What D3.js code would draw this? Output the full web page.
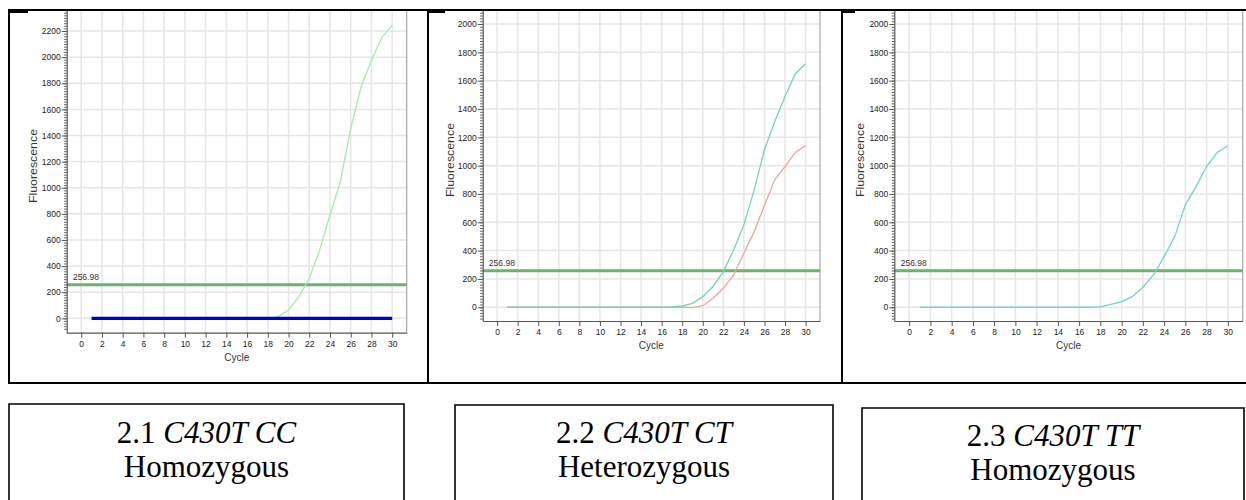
<!DOCTYPE html>
<html>
<head>
<meta charset="utf-8">
<script src="https://cdn.jsdelivr.net/npm/d3@7"></script>
<style>
  body { margin: 0; background: #fff; }
  svg { display: block; }
</style>
</head>
<body>
<svg id="chart"></svg>
<script>
// Cycle numbers shared by every run
const cycles = [1, 2, 3, 4, 5, 6, 7, 8, 9, 10, 11, 12, 13, 14, 15, 16, 17, 18, 19, 20, 21, 22, 23, 24, 25, 26, 27, 28, 29, 30];

// 2.1 CC homozygous
const ccGreen = [0, 0, 0, 0, 0, 0, 0, 0, 0, 0, 0, 0, 0, 0, 0, 0, 0, 0, 13, 64, 166, 306, 523, 791, 1046, 1454, 1773, 1977, 2150, 2245];
const ccBlue = [0, 0, 0, 0, 0, 0, 0, 0, 0, 0, 0, 0, 0, 0, 0, 0, 0, 0, 0, 0, 0, 0, 0, 0, 0, 0, 0, 0, 0, 0];

// 2.2 CT heterozygous
const ctTeal = [0, 0, 0, 0, 0, 0, 0, 0, 0, 0, 0, 0, 0, 0, 0, 0, 2, 9, 28, 75, 146, 252, 405, 582, 829, 1112, 1312, 1488, 1649, 1719];
const ctSalmon = [0, 0, 0, 0, 0, 0, 0, 0, 0, 0, 0, 0, 0, 0, 0, 0, 0, 0, -2, 11, 64, 134, 228, 381, 534, 720, 900, 994, 1093, 1142];

// 2.3 TT homozygous
const ttCyan = [0, 0, 0, 0, 0, 0, 0, 0, 0, 0, 0, 0, 0, 0, 0, 0, 0, 3, 20, 40, 75, 141, 228, 358, 499, 723, 852, 994, 1093, 1140];

const threshold = 256.98;
const xTicks = [0, 2, 4, 6, 8, 10, 12, 14, 16, 18, 20, 22, 24, 26, 28, 30];
const yTicksCC = [0, 200, 400, 600, 800, 1000, 1200, 1400, 1600, 1800, 2000, 2200];
const yTicksCT = [0, 200, 400, 600, 800, 1000, 1200, 1400, 1600, 1800, 2000];

const captionNums = ["2.1 ", "2.2 ", "2.3 "];
const captionGenes = ["C430T CC", "C430T CT", "C430T TT"];
const captionTypes = ["Homozygous", "Heterozygous", "Homozygous"];

const W = 1246, H = 500;
const svg = d3.select("#chart").attr("width", W).attr("height", H);

const tickFont = "'Liberation Sans', Arial, sans-serif";

// one panel per genotype
const panels = [
  { left: 66.7, right: 406.7, top: 10, bottom: 332.7, yDom: [-110, 2361], yTicks: yTicksCC,
    series: [{ v: ccGreen, c: "#a9eaa9", w: 1.3 }, { v: ccBlue, c: "#0000cc", w: 3.2 }],
    labelX: 33, labelY: 166 },
  { left: 482.7, right: 820, top: 10, bottom: 321, yDom: [-97, 2099], yTicks: yTicksCT,
    series: [{ v: ctSalmon, c: "#f3a39f", w: 1.3 }, { v: ctTeal, c: "#74d6b4", w: 1.3 }],
    labelX: 450.7, labelY: 160 },
  { left: 894.3, right: 1242.7, top: 10, bottom: 321, yDom: [-97, 2099], yTicks: yTicksCT,
    series: [{ v: ttCyan, c: "#6fd3cf", w: 1.3 }],
    labelX: 860.7, labelY: 160 }
];

panels.forEach(function(p) {
  const x = d3.scaleLinear().domain([-1.4, 31.4]).range([p.left, p.right]);
  const y = d3.scaleLinear().domain(p.yDom).range([p.bottom, p.top]);
  const g = svg.append("g");

  // grid
  g.selectAll(".vgrid").data(xTicks).enter().append("line")
    .attr("x1", d => x(d)).attr("x2", d => x(d))
    .attr("y1", p.top).attr("y2", p.bottom)
    .attr("stroke", "#e6e6e6").attr("stroke-width", 1.5);
  g.selectAll(".hgrid").data(p.yTicks).enter().append("line")
    .attr("x1", p.left).attr("x2", p.right)
    .attr("y1", d => y(d)).attr("y2", d => y(d))
    .attr("stroke", "#e6e6e6").attr("stroke-width", 1.5);

  // right frame
  g.append("line")
    .attr("x1", p.right).attr("x2", p.right).attr("y1", p.top).attr("y2", p.bottom)
    .attr("stroke", "#a8a8a8").attr("stroke-width", 1.2);

  // threshold
  g.append("line")
    .attr("x1", p.left).attr("x2", p.right).attr("y1", y(threshold)).attr("y2", y(threshold))
    .attr("stroke", "#879a87").attr("stroke-width", 3);
  g.append("line")
    .attr("x1", p.left).attr("x2", p.right).attr("y1", y(threshold)).attr("y2", y(threshold))
    .attr("stroke", "#5fc25f").attr("stroke-width", 1.2);
  g.append("text")
    .attr("x", x(-0.8)).attr("y", y(threshold) - 5)
    .attr("font-family", tickFont).attr("font-size", 8.5).attr("fill", "#333")
    .text(threshold.toFixed(2));

  // curves
  const line = d3.line().x((d, i) => x(cycles[i])).y(d => y(d));
  p.series.forEach(function(s) {
    g.append("path").datum(s.v)
      .attr("d", line)
      .attr("fill", "none")
      .attr("stroke", s.c)
      .attr("stroke-width", s.w);
  });

  // y axis with minor ticks
  const yMinor = d3.range(-80, p.yDom[1], 20);
  g.append("g")
    .attr("transform", "translate(" + p.left + ",0)")
    .call(d3.axisLeft(y).tickValues(yMinor).tickSize(2.5).tickFormat(""))
    .call(a => a.select(".domain").remove())
    .selectAll("line").attr("stroke", "#555");
  const yAxis = g.append("g")
    .attr("transform", "translate(" + p.left + ",0)")
    .call(d3.axisLeft(y).tickValues(p.yTicks).tickSize(5).tickPadding(1).tickSizeOuter(0).tickFormat(d3.format("d")));
  yAxis.select(".domain").attr("stroke", "#555").attr("stroke-width", 1.2);
  yAxis.selectAll("line").attr("stroke", "#555");
  yAxis.selectAll("text").attr("font-family", tickFont).attr("font-size", 8.5).attr("fill", "#222");

  // x axis
  const xAxis = g.append("g")
    .attr("transform", "translate(0," + p.bottom + ")")
    .call(d3.axisBottom(x).tickValues(xTicks).tickSize(5).tickPadding(3).tickSizeOuter(0));
  xAxis.select(".domain").attr("stroke", "#555").attr("stroke-width", 1.2);
  xAxis.selectAll("line").attr("stroke", "#555");
  xAxis.selectAll("text").attr("font-family", tickFont).attr("font-size", 8.5).attr("fill", "#222");

  g.append("text")
    .attr("x", x(15)).attr("y", p.bottom + 28)
    .attr("text-anchor", "middle")
    .attr("font-family", tickFont).attr("font-size", 10).attr("fill", "#333")
    .text("Cycle");

  g.append("text")
    .attr("transform", "translate(" + (p.labelX + 3.5) + "," + p.labelY + ") rotate(-90)")
    .attr("text-anchor", "middle")
    .attr("font-family", tickFont).attr("font-size", 10).attr("fill", "#333")
    .attr("textLength", 74).attr("lengthAdjust", "spacingAndGlyphs")
    .text("Fluorescence");
});

// table frame around the three panels
const frame = svg.append("g").attr("stroke", "#000").attr("fill", "none");
frame.append("line").attr("x1", 8).attr("x2", W).attr("y1", 10).attr("y2", 10).attr("stroke-width", 2);
frame.append("line").attr("x1", 8).attr("x2", W).attr("y1", 383).attr("y2", 383).attr("stroke-width", 2);
[9, 428, 842].forEach(function(xx) {
  frame.append("line").attr("x1", xx).attr("x2", xx).attr("y1", 9).attr("y2", 384).attr("stroke-width", 2);
});
[[9, 28], [428, 445], [842, 855]].forEach(function(s) {
  frame.append("rect").attr("x", s[0]).attr("y", 9).attr("width", s[1] - s[0]).attr("height", 4)
    .attr("fill", "#000").attr("stroke", "none");
});

// caption boxes
const boxes = [
  { l: 9, r: 404, t: 404, dy: 0 },
  { l: 455, r: 833, t: 405, dy: 0 },
  { l: 862, r: 1244, t: 408, dy: 3 }
];
boxes.forEach(function(b, i) {
  svg.append("path")
    .attr("d", "M" + b.l + "," + (H + 5) + "V" + b.t + "H" + b.r + "V" + (H + 5))
    .attr("fill", "none").attr("stroke", "#000").attr("stroke-width", 1.6);
  const cx = (b.l + b.r) / 2;
  const t1 = svg.append("text")
    .attr("x", cx).attr("y", 443 + b.dy)
    .attr("text-anchor", "middle")
    .attr("font-family", "'Liberation Serif', 'Times New Roman', serif")
    .attr("font-size", 31).attr("fill", "#000");
  t1.append("tspan").text(captionNums[i]);
  t1.append("tspan").attr("font-style", "italic").text(captionGenes[i]);
  svg.append("text")
    .attr("x", cx).attr("y", 477 + b.dy)
    .attr("text-anchor", "middle")
    .attr("font-family", "'Liberation Serif', 'Times New Roman', serif")
    .attr("font-size", 31).attr("fill", "#000")
    .text(captionTypes[i]);
});
</script>
</body>
</html>
